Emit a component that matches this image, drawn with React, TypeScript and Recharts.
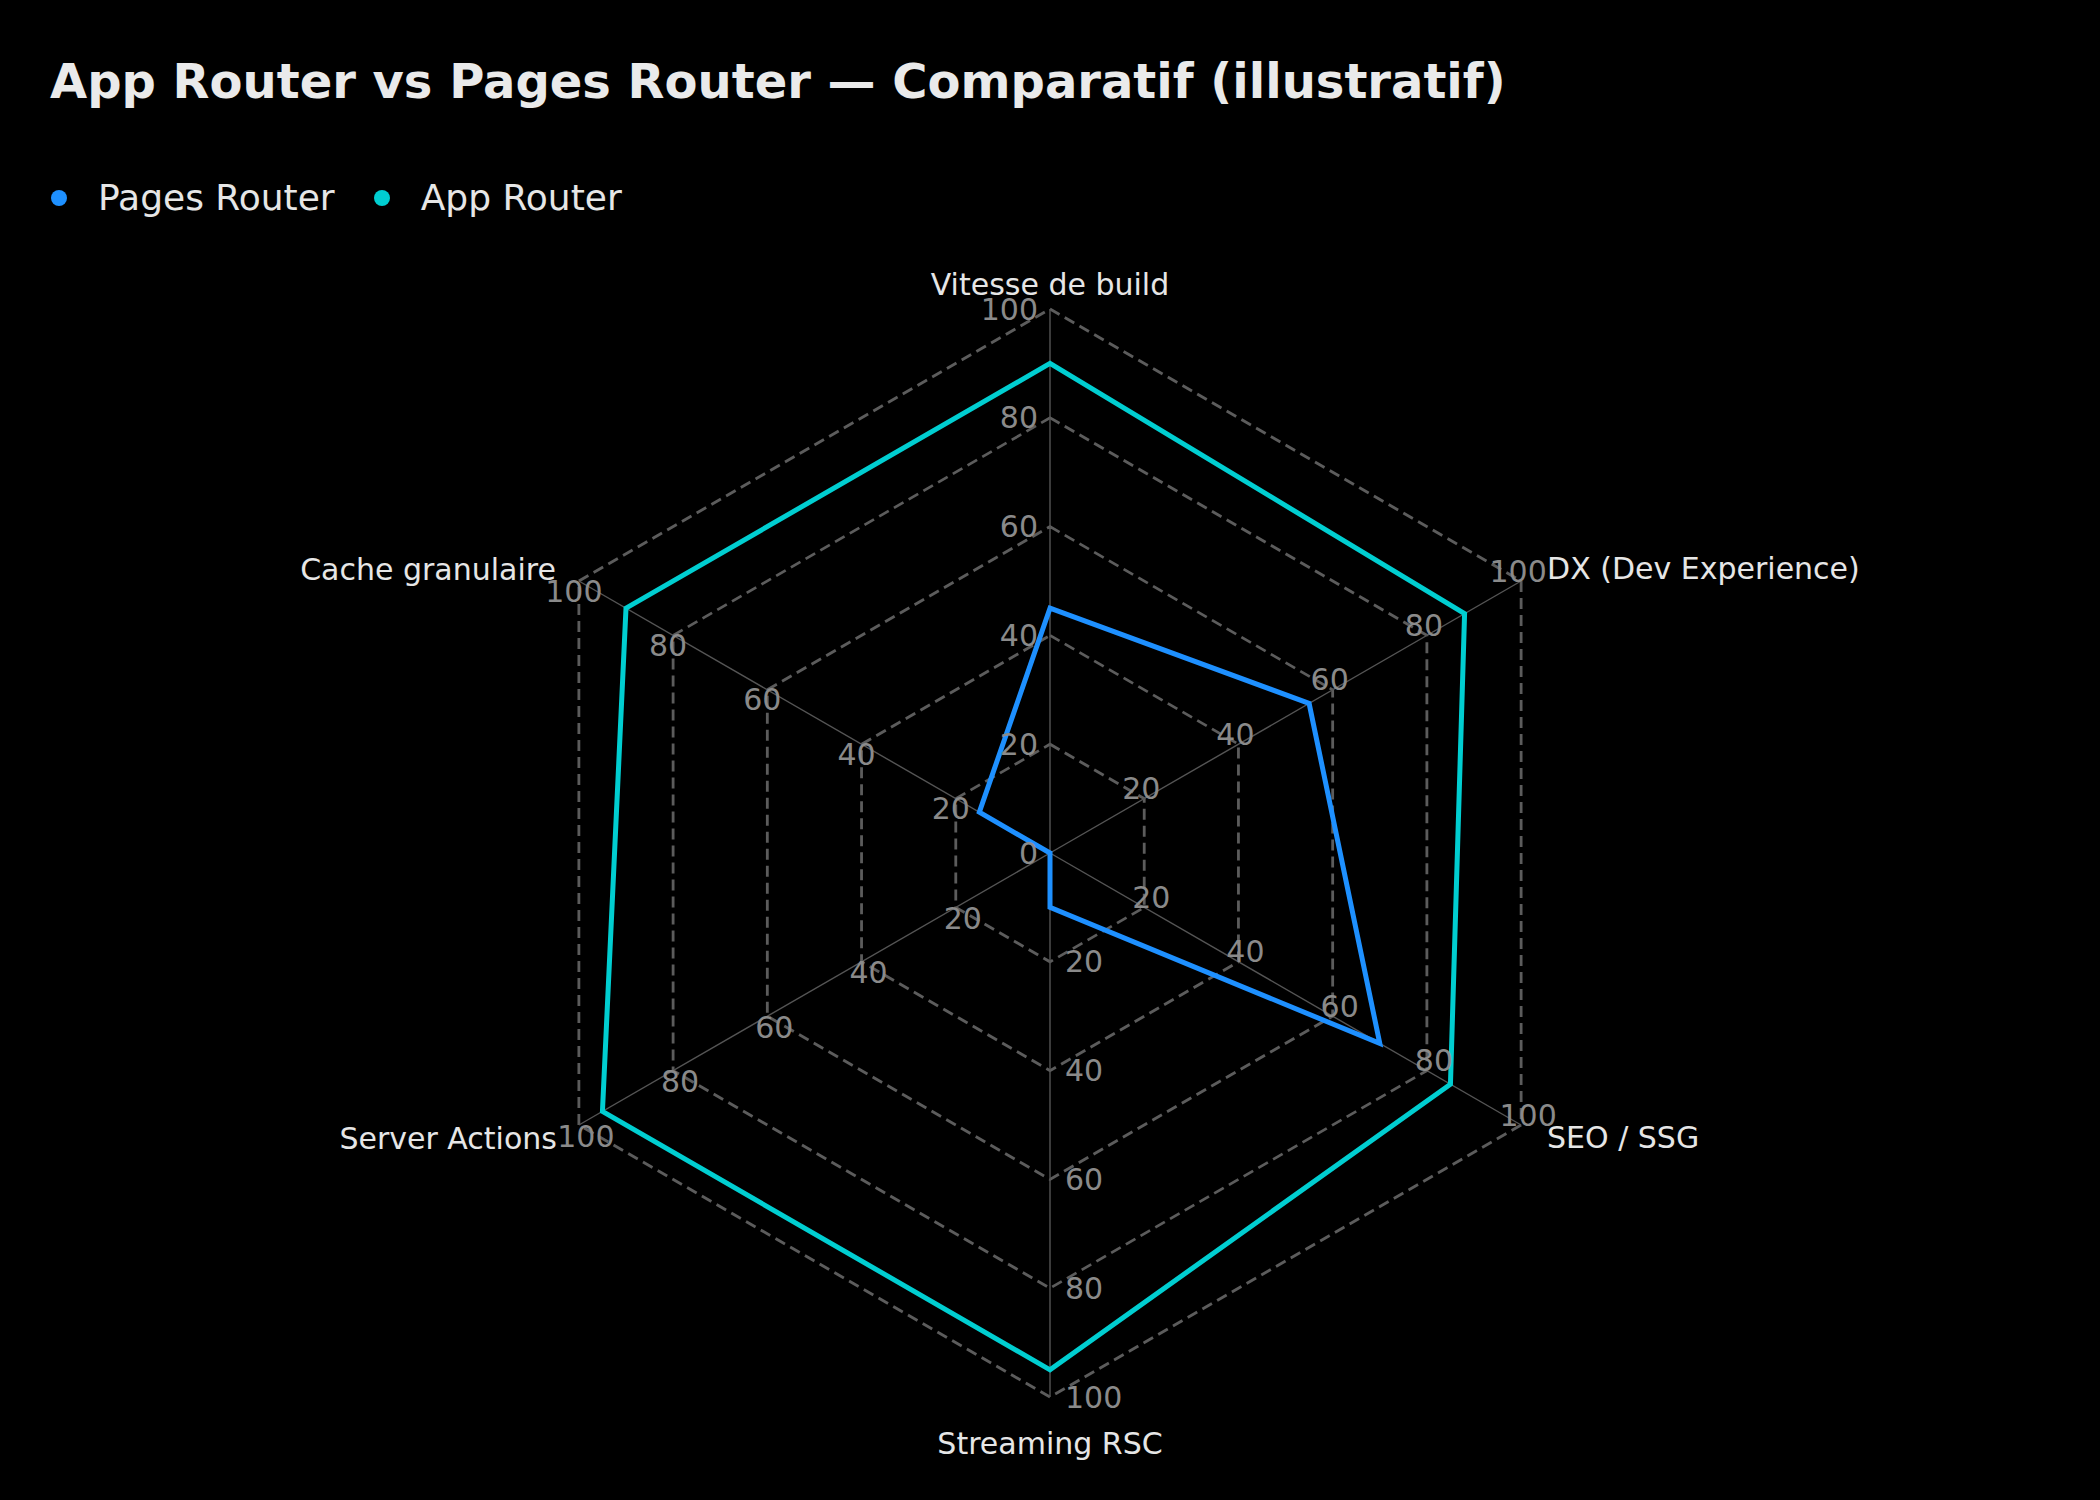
import { Legend, PolarAngleAxis, PolarGrid, PolarRadiusAxis, Radar, RadarChart } from 'recharts';

const categories = [
  'Vitesse de build',
  'DX (Dev Experience)',
  'SEO / SSG',
  'Streaming RSC',
  'Server Actions',
  'Cache granulaire',
];
const seriesNames = ['Pages Router', 'App Router'];
const pagesRouter = [45, 55, 70, 10, 0, 15];
const appRouter = [90, 88, 85, 95, 95, 90];
const radiusTicks = [0, 20, 40, 60, 80, 100];

const data = categories.map((name, i) => ({ name, pages: pagesRouter[i], app: appRouter[i] }));

const FONT = '"DejaVu Sans", sans-serif';
const BLUE = '#1E90FF';
const CYAN = '#00CED1';
const CX = 1050;
const CY = 853;
const R = 544;

// radius labels are repeated on every spoke, like matplotlib's rgrids
const spokes = [
  { angle: 90, anchor: 'end', dx: -12, dy: 0 },
  { angle: 30, anchor: 'middle', dx: -3, dy: -10 },
  { angle: -30, anchor: 'middle', dx: 7, dy: -10 },
  { angle: -90, anchor: 'start', dx: 15, dy: 0 },
  { angle: -150, anchor: 'middle', dx: 7, dy: 11 },
  { angle: 150, anchor: 'middle', dx: -5, dy: 10 },
];

function RadiusTick(props: any) {
  const { y, payload } = props;
  const r = CY - y; // axis drawn at 90deg, so distance from center = CY - y
  const shown = payload.value === 0 ? spokes.slice(0, 1) : spokes;
  return (
    <g>
      {shown.map((s) => {
        const rad = (s.angle * Math.PI) / 180;
        return (
          <text
            key={s.angle}
            x={CX + r * Math.cos(rad) + s.dx}
            y={CY - r * Math.sin(rad) + s.dy}
            textAnchor={s.anchor}
            dominantBaseline="central"
            fill="#8a8a8a"
            fontSize={30}
            fontFamily={FONT}
          >
            {payload.value}
          </text>
        );
      })}
    </g>
  );
}

const angleOffsets: Record<string, { anchor: string; dx: number; dy: number }> = {
  'Vitesse de build': { anchor: 'middle', dx: 0, dy: -17 },
  'DX (Dev Experience)': { anchor: 'start', dx: 19, dy: -9 },
  'SEO / SSG': { anchor: 'start', dx: 19, dy: 8 },
  'Streaming RSC': { anchor: 'middle', dx: 0, dy: 38 },
  'Server Actions': { anchor: 'end', dx: -15, dy: 9 },
  'Cache granulaire': { anchor: 'end', dx: -16, dy: -8 },
};

function AngleTick(props: any) {
  const { x, y, payload } = props;
  const o = angleOffsets[payload.value] ?? { anchor: 'middle', dx: 0, dy: 0 };
  return (
    <text
      x={x + o.dx}
      y={y + o.dy}
      textAnchor={o.anchor}
      dominantBaseline="central"
      fill="#e6e6e6"
      fontSize={30}
      fontFamily={FONT}
    >
      {payload.value}
    </text>
  );
}

function LegendContent(props: any) {
  const items = [...(props.payload ?? [])].sort(
    (a: any, b: any) => seriesNames.indexOf(a.value) - seriesNames.indexOf(b.value),
  );
  return (
    <div style={{ display: 'flex', alignItems: 'center', fontFamily: FONT, fontSize: 36, color: '#e6e6e6' }}>
      {items.map((it: any) => (
        <div key={it.value} style={{ display: 'flex', alignItems: 'center', marginRight: 39 }}>
          <span
            style={{
              display: 'inline-block',
              width: 16,
              height: 16,
              borderRadius: 8,
              background: it.color,
              marginRight: 31,
            }}
          />
          <span>{it.value}</span>
        </div>
      ))}
    </div>
  );
}

export default function App() {
  return (
    <div style={{ position: 'absolute', left: 0, top: 0, width: 2100, height: 1500, background: '#000', overflow: 'hidden' }}>
      <div
        style={{
          position: 'absolute',
          left: 50,
          top: 51,
          fontFamily: FONT,
          fontWeight: 'bold',
          fontSize: 48,
          lineHeight: '60px',
          color: '#eaeaea',
          whiteSpace: 'nowrap',
        }}
      >
        App Router vs Pages Router — Comparatif (illustratif)
      </div>
      <RadarChart
        width={2100}
        height={1500}
        data={data}
        cx={CX}
        cy={CY}
        outerRadius={R}
        margin={{ top: 0, right: 0, bottom: 0, left: 0 }}
      >
        <PolarGrid gridType="polygon" radialLines={false} stroke="#5c5c5c" strokeWidth={2.8} strokeDasharray="11 6" />
        <PolarGrid gridType="polygon" radialLines polarRadius={[0]} stroke="#555" strokeWidth={1.4} />
        <PolarAngleAxis dataKey="name" axisLine={false} tickLine={false} tick={AngleTick} />
        <PolarRadiusAxis
          angle={90}
          domain={[0, 100]}
          ticks={radiusTicks as any}
          tickCount={6}
          axisLine={false}
          tickLine={false}
          tick={RadiusTick}
        />
        <Radar
          name={seriesNames[0]}
          dataKey="pages"
          stroke={BLUE}
          strokeWidth={5}
          fill="none"
          fillOpacity={0}
          dot={false}
          isAnimationActive={false}
        />
        <Radar
          name={seriesNames[1]}
          dataKey="app"
          stroke={CYAN}
          strokeWidth={5}
          fill="none"
          fillOpacity={0}
          dot={false}
          isAnimationActive={false}
        />
        <Legend
          layout="horizontal"
          verticalAlign="middle"
          align="center"
          wrapperStyle={{ top: 177, left: 51, width: 'auto' }}
          content={LegendContent}
        />
      </RadarChart>
    </div>
  );
}
